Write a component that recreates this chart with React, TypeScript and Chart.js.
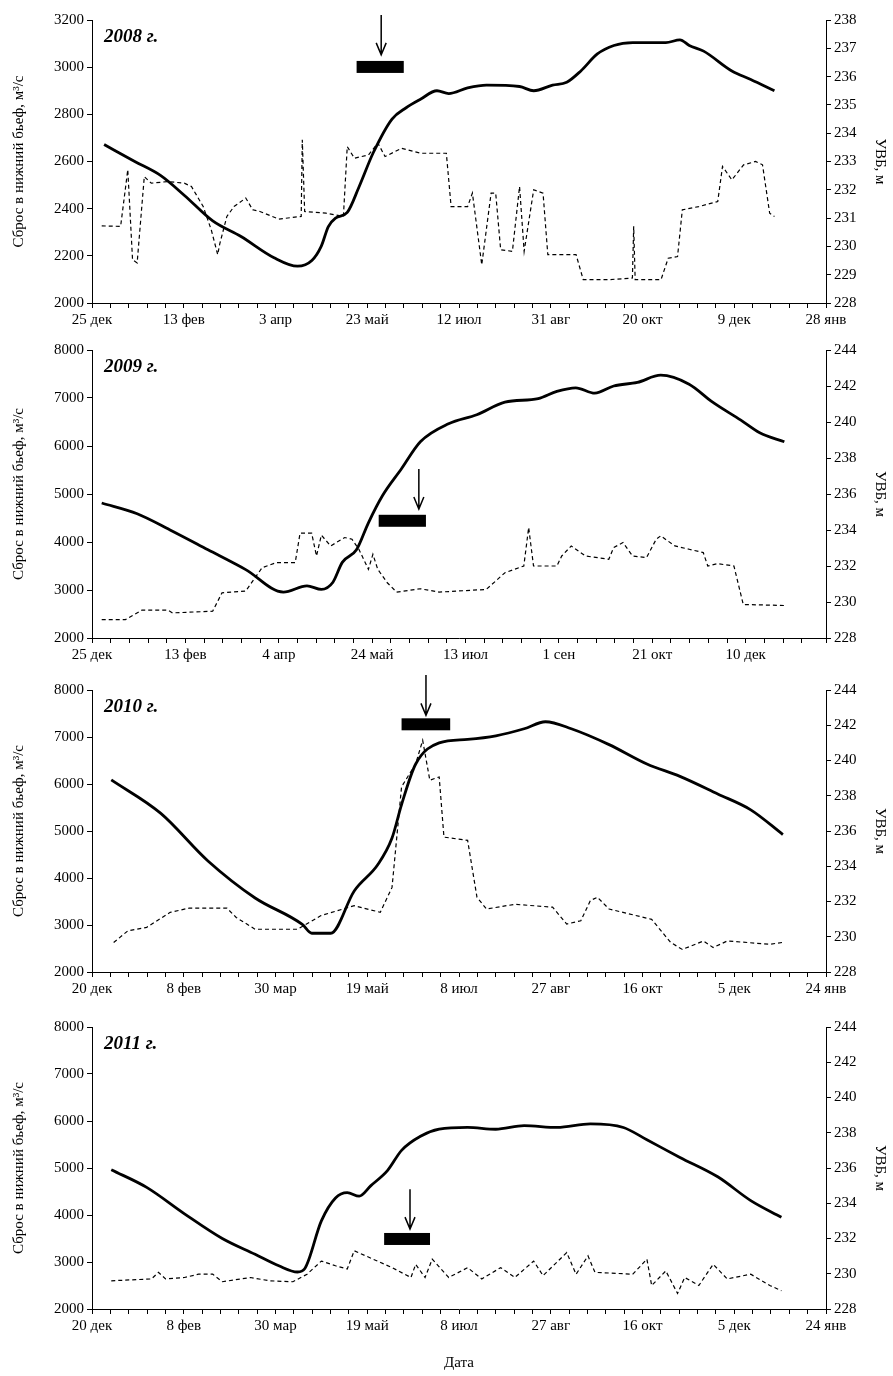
import React, { useRef, useEffect } from 'react';
import Chart from 'chart.js/auto';

type P = [number, number];

// [день от начала оси, значение]
const uvb2008: P[] = [[6.6,233.6],[23.3,233.0],[37.5,232.5],[50.4,231.8],[65.8,230.9],[81.2,230.35],[99.2,229.6],[112,229.3],[119.8,229.5],[124.9,230.0],[128.8,230.7],[132.7,231.0],[139.1,231.2],[145.5,232.1],[153.2,233.3],[163.5,234.5],[171.2,234.9],[179,235.2],[188,235.5],[194.4,235.4],[204.7,235.6],[215,235.7],[233,235.65],[240.7,235.5],[251,235.7],[258.7,235.8],[266.4,236.2],[275.4,236.8],[284.4,237.1],[294.7,237.2],[312.7,237.2],[320.4,237.3],[325.5,237.1],[333.3,236.9],[348.7,236.2],[359,235.9],[371.9,235.5]];
const q2008: P[] = [[5.3,2327],[15.6,2325],[19.5,2565],[22.1,2183],[24.6,2170],[28.5,2536],[32.3,2508],[41.3,2515],[50.3,2508],[54.2,2494],[60.6,2409],[65,2310],[68.5,2205],[69.6,2250],[73.5,2367],[77.4,2409],[83.8,2445],[87.6,2395],[91.5,2388],[101.8,2356],[114,2367],[114.6,2692],[115.9,2388],[127.5,2381],[137,2367],[139.1,2663],[143,2614],[150.7,2628],[155.8,2678],[159.7,2621],[168.7,2656],[179,2635],[193.1,2635],[195.7,2409],[204.7,2409],[207.3,2466],[212.4,2162],[217.5,2466],[220,2466],[222.7,2226],[229.1,2219],[233,2494],[235.5,2219],[240.7,2480],[245.8,2466],[248.4,2205],[263.8,2205],[267.7,2099],[281.8,2099],[294.5,2106],[295.2,2325],[296,2099],[310.1,2099],[314,2190],[319.1,2197],[321.7,2395],[330.7,2409],[341,2430],[343.6,2579],[348.7,2522],[355.1,2586],[361.6,2600],[365.4,2586],[369.3,2381],[371.9,2367]];

const uvb2009: P[] = [[5.2,235.5],[24.2,234.9],[41.8,234.0],[62.1,232.9],[82.3,231.8],[102.5,230.55],[115.1,230.9],[122.8,230.7],[129,231.1],[134,232.2],[141.6,232.9],[148,234.4],[155.5,235.9],[165.7,237.4],[175.8,238.9],[190.9,239.9],[206,240.4],[221.1,241.1],[238.9,241.3],[248.9,241.7],[259,241.9],[269.2,241.6],[279.3,242.0],[292,242.2],[304.5,242.6],[319.7,242.1],[332.3,241.1],[347.4,240.1],[357.5,239.4],[370.7,238.9]];
const q2009: P[] = [[5.2,2384],[17.9,2384],[26.7,2579],[40.7,2579],[43.1,2523],[64.6,2558],[69.6,2942],[82.3,2977],[91.1,3465],[98.7,3570],[108.8,3570],[111.4,4184],[117.6,4184],[120.2,3709],[122.8,4142],[127.8,3918],[135.3,4093],[139.2,4058],[142.9,3849],[148,3430],[150.4,3744],[153,3430],[158.1,3151],[163.1,2956],[175.8,3026],[185.8,2956],[211.1,3012],[221.1,3360],[231.2,3500],[233.8,4302],[236.4,3500],[248.9,3500],[251.5,3709],[256.6,3918],[264.2,3709],[276.7,3640],[279.3,3884],[284.3,3988],[289.4,3709],[296.9,3674],[302.1,4058],[304.5,4128],[312.1,3918],[319.7,3849],[327.3,3779],[329.7,3500],[334.9,3549],[343.7,3500],[348.7,2698],[371,2677]];

const uvb2010: P[] = [[10.5,238.9],[37.5,237.0],[63.2,234.3],[88.9,232.2],[114.6,230.7],[119.8,230.2],[130.1,230.2],[142.9,232.6],[155.8,234.1],[163.5,235.6],[168.7,237.5],[176.4,239.8],[189.2,241.0],[204.7,241.2],[220.1,241.4],[235.5,241.8],[247.1,242.2],[261.2,241.8],[281.8,240.9],[302.4,239.8],[320.4,239.1],[341,238.1],[359,237.2],[376.5,235.8]];
const q2010: P[] = [[11.8,2626],[19.5,2875],[29.8,2950],[42.6,3270],[53,3360],[73.5,3360],[78.6,3160],[88.9,2910],[112,2910],[124.8,3200],[142.9,3410],[157.1,3270],[163.5,3800],[168.7,5940],[176.4,6430],[180.2,6930],[184.1,6080],[189.2,6150],[191.8,4870],[204.7,4800],[209.8,3590],[215,3340],[230.4,3440],[251,3380],[258.7,3020],[266.4,3090],[271.6,3520],[275.4,3590],[281.8,3340],[305,3120],[315.3,2630],[321.7,2480],[333.3,2660],[338.5,2520],[346.2,2660],[369.4,2590],[376.5,2630]];

const uvb2011: P[] = [[10.5,235.9],[29.8,234.9],[50.4,233.4],[71,232.0],[88.9,231.1],[101.8,230.45],[112,230.1],[116,230.3],[125,233.0],[132.7,234.3],[139.1,234.6],[145.6,234.4],[152,235.0],[161,235.85],[168.7,237.0],[179,237.8],[189.2,238.2],[204.7,238.3],[220,238.2],[235.5,238.4],[253.5,238.3],[271.6,238.5],[289.6,238.3],[302.4,237.6],[320.4,236.6],[341,235.5],[359,234.15],[375.7,233.2]];
const q2011: P[] = [[10.5,2600],[32.4,2640],[36.2,2780],[40.1,2640],[50.4,2670],[58.1,2740],[65.8,2740],[71,2580],[86.4,2670],[96.7,2600],[109.5,2580],[117.2,2740],[125,3020],[132.7,2920],[139.1,2850],[142.9,3240],[153.2,3060],[163.5,2880],[173.8,2670],[176.4,2950],[181.5,2670],[185.4,3060],[194.4,2670],[204.7,2880],[212.4,2640],[222.7,2880],[230.4,2670],[240.7,3020],[245.8,2710],[258.7,3200],[263.8,2740],[270.3,3130],[274.1,2780],[294.7,2740],[302.4,3060],[305,2500],[312.7,2810],[319.1,2330],[323,2670],[330.7,2500],[338.5,2950],[346.2,2640],[359,2740],[369.4,2500],[375.7,2390]];

const months = ['янв','фев','мар','апр','май','июн','июл','авг','сен','окт','ноя','дек'];
const FONT = 'Liberation Serif';

interface PanelProps {
  year: string;
  start: [number, number, number];
  xMax: number;
  qMax: number; qStep: number;
  uMax: number; uStep: number;
  uvb: P[]; q: P[];
  bar: [number, number, number];   // день от, день до, уровень (левая ось)
  arrow: [number, number, number]; // день, от, до (левая ось)
  height: number; top: number; area: number;
  xTitle?: string;
}

const Panel: React.FC<PanelProps> = (p) => {
  const ref = useRef<HTMLCanvasElement>(null);
  useEffect(() => {
    if (!ref.current) return;
    const tickFont = { family: FONT, size: 15 };
    const notes = {
      id: 'notes',
      afterDraw(c: any) {
        const ctx = c.ctx, x = c.scales.x, y = c.scales.y, a = c.chartArea;
        ctx.save();
        ctx.fillStyle = '#000';
        const by = y.getPixelForValue(p.bar[2]);
        const bx = x.getPixelForValue(p.bar[0]);
        ctx.fillRect(bx, by - 6, x.getPixelForValue(p.bar[1]) - bx, 12);
        const ax = x.getPixelForValue(p.arrow[0]);
        const y1 = y.getPixelForValue(p.arrow[1]), y2 = y.getPixelForValue(p.arrow[2]);
        ctx.strokeStyle = '#000'; ctx.lineWidth = 1.5;
        ctx.beginPath(); ctx.moveTo(ax, y1); ctx.lineTo(ax, y2);
        ctx.moveTo(ax - 5, y2 - 12); ctx.lineTo(ax, y2); ctx.lineTo(ax + 5, y2 - 12);
        ctx.stroke();
        ctx.font = `italic bold 19px "${FONT}"`;
        ctx.textBaseline = 'top';
        ctx.fillText(p.year, a.left + 12, a.top + 8);
        ctx.restore();
      },
    };
    const axisGrid = { drawOnChartArea: false, color: '#000', tickLength: 5 };
    const chart = new Chart(ref.current, {
      type: 'line',
      data: {
        datasets: [
          { data: p.uvb.map(([x, y]) => ({ x, y })), yAxisID: 'y1', borderColor: '#000', borderWidth: 2.8, pointRadius: 0, cubicInterpolationMode: 'monotone' },
          { data: p.q.map(([x, y]) => ({ x, y })), yAxisID: 'y', borderColor: '#000', borderWidth: 1.2, borderDash: [4, 3], pointRadius: 0, tension: 0 },
        ],
      },
      options: {
        animation: false,
        responsive: false,
        layout: { padding: { top: p.top, left: 6 } },
        plugins: { legend: { display: false }, tooltip: { enabled: false } },
        scales: {
          x: {
            type: 'linear', min: 0, max: p.xMax,
            ticks: {
              stepSize: 10, autoSkip: false, color: '#000', font: tickFont, maxRotation: 0,
              callback: (v: any) => {
                const n = Number(v);
                if (Math.round(n) % 50 !== 0) return '';
                const d = new Date(p.start[0], p.start[1], p.start[2] + n);
                return `${d.getDate()} ${months[d.getMonth()]}`;
              },
            },
            grid: axisGrid,
            border: { color: '#000' },
            title: { display: !!p.xTitle, text: p.xTitle || '', color: '#000', font: tickFont, padding: { top: 10 } },
            afterFit: (s: any) => { s.height = p.height - p.top - p.area; },
          },
          y: {
            position: 'left', min: 2000, max: p.qMax,
            ticks: { stepSize: p.qStep, color: '#000', font: tickFont, callback: (v: any) => String(v) },
            grid: axisGrid,
            border: { color: '#000' },
            title: { display: true, text: 'Сброс в нижний бьеф, м³/с', color: '#000', font: tickFont },
            afterFit: (s: any) => { s.width = 86; },
          },
          y1: {
            position: 'right', min: 228, max: p.uMax,
            ticks: { stepSize: p.uStep, color: '#000', font: tickFont, callback: (v: any) => String(v) },
            grid: axisGrid,
            border: { color: '#000' },
            title: { display: true, text: 'УВБ, м', color: '#000', font: tickFont },
            afterFit: (s: any) => { s.width = 67; },
          },
        },
      } as any,
      plugins: [notes],
    });
    return () => chart.destroy();
  }, []);
  return <canvas ref={ref} width={893} height={p.height} style={{ display: 'block' }} />;
};

const App: React.FC = () => {
  useEffect(() => { document.body.style.margin = '0'; }, []);
  return (
    <div style={{ width: 893, background: '#fff' }}>
      <Panel year="2008 г." start={[2007, 11, 25]} xMax={400} qMax={3200} qStep={200} uMax={238} uStep={1}
        uvb={uvb2008} q={q2008} bar={[144.2, 169.9, 3001]} arrow={[157.6, 3221, 3052]} height={335} top={20} area={283} />
      <Panel year="2009 г." start={[2008, 11, 25]} xMax={393} qMax={8000} qStep={1000} uMax={244} uStep={2}
        uvb={uvb2009} q={q2009} bar={[153.5, 178.8, 4442]} arrow={[175, 5523, 4686]} height={337} top={15} area={288} />
      <Panel year="2010 г." start={[2009, 11, 20]} xMax={400} qMax={8000} qStep={1000} uMax={244} uStep={2}
        uvb={uvb2010} q={q2010} bar={[168.7, 195.2, 7270]} arrow={[182, 8320, 7460]} height={338} top={18} area={282} />
      <Panel year="2011 г." start={[2010, 11, 20]} xMax={400} qMax={8000} qStep={1000} uMax={244} uStep={2}
        uvb={uvb2011} q={q2011} bar={[159.2, 184.2, 3490]} arrow={[173.3, 4550, 3700]} height={366} top={17} area={282} xTitle="Дата" />
    </div>
  );
};

export default App;
